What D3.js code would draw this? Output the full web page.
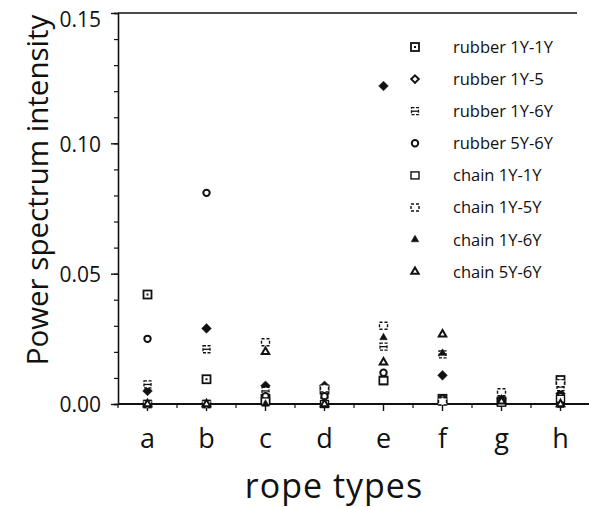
<!DOCTYPE html>
<html>
<head>
<meta charset="utf-8">
<script src="https://cdn.jsdelivr.net/npm/d3@7"></script>
<style>
  body { margin: 0; background: #fff; }
  svg text { font-family: "Open Sans", "Noto Sans", sans-serif; fill: #111; }
</style>
</head>
<body>
<div id="chart"></div>
<script>
// rope types on x, one value per series
var ropeTypes = ["a", "b", "c", "d", "e", "f", "g", "h"];
var seriesNames = ["rubber 1Y-1Y", "rubber 1Y-5", "rubber 1Y-6Y", "rubber 5Y-6Y",
	"chain 1Y-1Y", "chain 1Y-5Y", "chain 1Y-6Y", "chain 5Y-6Y"];
var rubber11 = [0.042, 0.0095, 0.002, 0.0055, 0.009, 0.002, 0.001, 0.0092];
var rubber15 = [0.005, 0.029, 0.007, 0.007, 0.122, 0.011, 0.002, 0.004];
var rubber16 = [0.0075, 0.021, 0.005, 0.001, 0.022, 0.019, 0.001, 0.0065];
var rubber56 = [0.025, 0.081, 0.003, 0.003, 0.012, 0.002, 0.001, 0.003];
var chain11 = [0.0, 0.0, 0.001, 0.0, 0.009, 0.001, 0.0005, 0.002];
var chain15 = [0.0, 0.0, 0.0237, 0.006, 0.030, 0.001, 0.0045, 0.008];
var chain16 = [0.0, 0.0, 0.0, 0.0, 0.0255, 0.0195, 0.002, -0.0005];
var chain56 = [0.0, 0.0, 0.020, 0.0, 0.016, 0.0267, 0.001, 0.0];
var yTicks = [0, 0.05, 0.10, 0.15];

var seriesValues = [rubber11, rubber15, rubber16, rubber56, chain11, chain15, chain16, chain56];
// marker kind per series (legend uses an open diamond for rubber 1Y-5, as in the original)
var markers = ["dotSquare", "fillDiamond", "hash", "circle", "square", "dashSquare", "fillTri", "openTri"];
var legendMarkers = ["dotSquare", "openDiamond", "hash", "circle", "square", "dashSquare", "fillTri", "openTri"];

var W = 589, H = 507;
var margin = {top: 13, right: 0, bottom: 102, left: 118};

var svg = d3.select("#chart").append("svg")
	.attr("width", W)
	.attr("height", H);

var x = d3.scalePoint()
	.domain(ropeTypes)
	.range([margin.left, W + 1])
	.padding(0.5);
var y = d3.scaleLinear()
	.domain([0, 0.15])
	.range([H - margin.bottom - 1, margin.top]);

var step = x.step();

// frame: top line
svg.append("line")
	.attr("x1", margin.left).attr("x2", 577)
	.attr("y1", y(0.15)).attr("y2", y(0.15))
	.attr("stroke", "#111").attr("stroke-width", 1.6);

// y axis with minor ticks every 0.01
var yAxis = d3.axisLeft(y)
	.tickValues(d3.range(0, 0.1501, 0.01))
	.tickSize(4)
	.tickFormat("");
var gy = svg.append("g")
	.attr("transform", "translate(" + margin.left + ",0)")
	.call(yAxis);
gy.select(".domain").attr("stroke", "#111").attr("stroke-width", 1.6);
gy.selectAll(".tick line").attr("stroke", "#111").attr("stroke-width", 1.2);

var yMajor = d3.axisLeft(y)
	.tickValues(yTicks)
	.tickSize(7)
	.tickFormat(d3.format(".2f"));
var gy2 = svg.append("g")
	.attr("transform", "translate(" + margin.left + ",0)")
	.call(yMajor);
gy2.select(".domain").remove();
gy2.selectAll(".tick line").attr("stroke", "#111").attr("stroke-width", 1.4);
gy2.selectAll(".tick text")
	.attr("x", -17)
	.attr("dy", function (d) { return d === 0.15 ? "0.62em" : "0.38em"; })
	.attr("font-size", 21)
	.attr("font-family", null);

// x axis: majors at rope types, minors halfway between
var gx = svg.append("g")
	.attr("transform", "translate(0," + y(0) + ")");
gx.append("line")
	.attr("x1", margin.left).attr("x2", W)
	.attr("stroke", "#111").attr("stroke-width", 2);
var minorX = ropeTypes.map(function (d) { return x(d) - step / 2; });
gx.selectAll(".minor")
	.data(minorX)
	.enter().append("line")
	.attr("class", "minor")
	.attr("x1", function (d) { return d; })
	.attr("x2", function (d) { return d; })
	.attr("y1", 0).attr("y2", 4)
	.attr("stroke", "#111").attr("stroke-width", 1.2);
gx.selectAll(".major")
	.data(ropeTypes)
	.enter().append("line")
	.attr("class", "major")
	.attr("x1", function (d) { return x(d); })
	.attr("x2", function (d) { return x(d); })
	.attr("y1", 0).attr("y2", 7)
	.attr("stroke", "#111").attr("stroke-width", 1.4);
gx.selectAll(".cat")
	.data(ropeTypes)
	.enter().append("text")
	.attr("class", "cat")
	.attr("x", function (d) { return x(d); })
	.attr("y", 44)
	.attr("text-anchor", "middle")
	.attr("font-size", 27)
	.text(function (d) { return d; });

// axis titles
svg.append("text")
	.attr("x", 334).attr("y", 498)
	.attr("text-anchor", "middle")
	.attr("font-size", 34)
	.attr("letter-spacing", 1)
	.text("rope types");
svg.append("text")
	.attr("transform", "translate(48," + 190 + ") rotate(-90)")
	.attr("text-anchor", "middle")
	.attr("font-size", 29.5)
	.text("Power spectrum intensity");

// marker drawing
function drawMarker(g, kind) {
	var s = 4;
	if (kind === "dotSquare") {
		g.append("rect").attr("x", -s).attr("y", -s).attr("width", 2 * s).attr("height", 2 * s)
			.attr("fill", "#fff").attr("stroke", "#111").attr("stroke-width", 1.8);
		g.append("rect").attr("x", -1).attr("y", -1).attr("width", 2).attr("height", 2).attr("fill", "#111");
	} else if (kind === "square") {
		g.append("rect").attr("x", -s).attr("y", -s + 0.5).attr("width", 2 * s).attr("height", 2 * s - 1)
			.attr("fill", "#fff").attr("stroke", "#111").attr("stroke-width", 1.4);
	} else if (kind === "dashSquare") {
		g.append("rect").attr("x", -s).attr("y", -s + 0.5).attr("width", 2 * s).attr("height", 2 * s - 1)
			.attr("fill", "#fff").attr("stroke", "#111").attr("stroke-width", 1.4)
			.attr("stroke-dasharray", "3,2");
	} else if (kind === "hash") {
		g.append("rect").attr("x", -3.5).attr("y", -3.5).attr("width", 7).attr("height", 7)
			.attr("fill", "#fff").attr("stroke", "#111").attr("stroke-width", 1.3)
			.attr("stroke-dasharray", "3,1.5");
		g.append("line").attr("x1", -3.5).attr("x2", 3.5).attr("y1", 0).attr("y2", 0)
			.attr("stroke", "#111").attr("stroke-width", 1.3);
	} else if (kind === "circle") {
		g.append("circle").attr("r", 3.2)
			.attr("fill", "#fff").attr("stroke", "#111").attr("stroke-width", 2);
	} else if (kind === "fillDiamond" || kind === "openDiamond") {
		var filled = kind === "fillDiamond";
		g.append("path")
			.attr("d", d3.symbol().type(d3.symbolDiamond2).size(filled ? 60 : 36)())
			.attr("fill", filled ? "#111" : "#fff")
			.attr("stroke", "#111").attr("stroke-width", filled ? 0.5 : 2);
	} else if (kind === "fillTri" || kind === "openTri") {
		var f = kind === "fillTri";
		g.append("path")
			.attr("d", d3.symbol().type(d3.symbolTriangle2).size(40)())
			.attr("fill", f ? "#111" : "#fff")
			.attr("stroke", "#111").attr("stroke-width", f ? 0.6 : 2);
	}
}

// data points, drawn series by series
var points = [];
seriesValues.forEach(function (vals, si) {
	vals.forEach(function (v, ci) {
		points.push({series: si, cat: ropeTypes[ci], value: v});
	});
});
svg.append("g").selectAll("g")
	.data(points)
	.enter().append("g")
	.attr("transform", function (d) {
		return "translate(" + x(d.cat) + "," + y(d.value) + ")";
	})
	.each(function (d) { drawMarker(d3.select(this), markers[d.series]); });

// legend
var legend = svg.append("g").selectAll("g")
	.data(seriesNames)
	.enter().append("g")
	.attr("transform", function (d, i) { return "translate(415," + (47 + i * 32.1) + ")"; });
legend.each(function (d, i) { drawMarker(d3.select(this), legendMarkers[i]); });
legend.append("text")
	.attr("x", 38)
	.attr("dy", "0.36em")
	.attr("font-size", 16.5)
	.text(function (d) { return d; });
</script>
</body>
</html>
